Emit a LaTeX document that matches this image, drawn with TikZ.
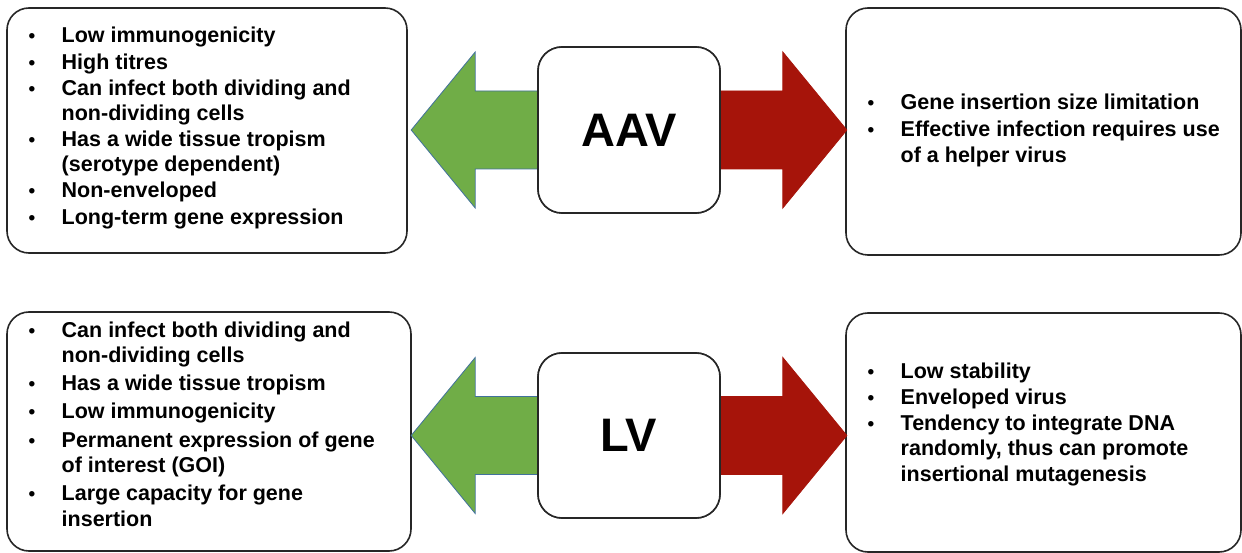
\documentclass[tikz,border=0pt]{standalone}
\usepackage{fontspec}
\setmainfont{Liberation Sans}
\usetikzlibrary{calc}

\definecolor{procol}{RGB}{112,173,71}
\definecolor{proedge}{RGB}{65,113,156}
\definecolor{concol}{RGB}{166,20,10}
\definecolor{boxline}{RGB}{38,38,38}

% one bulleted entry with a hanging indent
\newcommand{\bul}[1]{\par\hangindent=33.5pt\hangafter=1\noindent
  \makebox[33.5pt][l]{\kern0.5pt{\fontsize{19}{19}\selectfont\textbullet}}#1}
% a block of entries; #1 = extra space between entries
\newcommand{\entries}[2]{\parbox[t]{390pt}{\setlength{\parskip}{#1}#2}}

\tikzset{
  panel/.style={draw=boxline, line width=1.6pt, rounded corners=22pt, fill=white, inner sep=0pt},
  virus/.style={draw=boxline, line width=1.6pt, rounded corners=24pt, fill=white, inner sep=0pt,
    minimum width=182pt, font=\fontsize{47}{50}\selectfont\bfseries},
  listtext/.style={anchor=base west, inner sep=0pt, align=left,
    font=\fontsize{21.5}{25.3}\selectfont\bfseries},
  pro/.style={fill=procol, draw=proedge, line width=0.8pt, line join=miter},
  con/.style={fill=concol, draw=concol, line width=0.8pt, line join=miter}
}

\begin{document}
\begin{tikzpicture}[x=1pt, y=-1pt]
\useasboundingbox (0,0) rectangle (1242,553);

% outer panels
\node[panel, minimum width=400pt, minimum height=245pt] (aavpro) at (207,130.5) {};
\node[panel, minimum width=395pt, minimum height=247pt] (aavcon) at (1043.5,131.5) {};
\node[panel, minimum width=404pt, minimum height=239pt] (lvpro) at (209,431.5) {};
\node[panel, minimum width=395pt, minimum height=239pt] (lvcon) at (1043.5,432.5) {};

% virus labels (placed first so the arrows can refer to them)
\node[virus, minimum height=166pt] (aav) at (629,130) {AAV};
\node[virus, minimum height=165pt] (lv) at (629,435.5) {LV};

% block arrows: green = advantages, red = drawbacks
\foreach \v in {aav,lv}{
  \draw[pro] ($(\v.west)+(-126,0)$) -- ++(64,-78) -- ++(0,39) -- ++(74,0)
    -- ++(0,78) -- ++(-74,0) -- ++(0,39) -- cycle;
  \draw[con] ($(\v.east)+(-12,-39)$) -- ++(74,0) -- ++(0,-39) -- ++(64,78)
    -- ++(-64,78) -- ++(0,-39) -- ++(-74,0) -- cycle;
}

% redraw the virus boxes on top of the arrow shafts
\node[virus, minimum height=166pt] at (aav.center) {AAV};
\node[virus, minimum height=165pt] at (lv.center) {LV};

% lists
\node[listtext] (aavprotext) at (28,43) {\entries{0.8pt}{%
  \bul{Low immunogenicity}%
  \bul{High titres}%
  \bul{Can infect both dividing and\newline non-dividing cells}%
  \bul{Has a wide tissue tropism\newline (serotype dependent)}%
  \bul{Non-enveloped}%
  \bul{Long-term gene expression}}};

\node[listtext] (aavcontext) at (867,110) {\entries{1.5pt}{%
  \bul{Gene insertion size limitation}%
  \bul{Effective infection requires use\newline of a helper virus}}};

\node[listtext] (lvprotext) at (28,337) {\entries{3pt}{%
  \bul{Can infect both dividing and\newline non-dividing cells}%
  \bul{Has a wide tissue tropism}%
  \bul{Low immunogenicity}%
  \bul{Permanent expression of gene\newline of interest (GOI)}%
  \bul{Large capacity for gene\newline insertion}}};

\node[listtext] (lvcontext) at (867,378) {\entries{1pt}{%
  \bul{Low stability}%
  \bul{Enveloped virus}%
  \bul{Tendency to integrate DNA\newline randomly, thus can promote\newline insertional mutagenesis}}};
\end{tikzpicture}
\end{document}
